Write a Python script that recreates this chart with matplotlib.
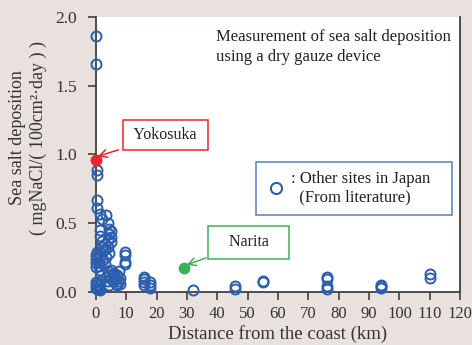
import matplotlib
matplotlib.use("Agg")
import matplotlib.pyplot as plt
from matplotlib.lines import Line2D

plt.rcParams["font.family"] = ["Liberation Serif", "DejaVu Serif"]

# other sites in Japan (distance from coast in km, deposition in mg NaCl/(100 cm2 day))
other_km = [
    0, 0, 0.3, 0.3, 0.5, 0.5,
    1.5, 2, 3.5, 4, 4.5, 4.5, 4,
    1.5, 1.5, 2, 2, 2.5, 3, 3, 4, 4.5, 5, 5, 5,
    0, 0, 0, 0, 0.5, 0.5, 1, 1, 1.5, 1.5, 2.5, 3, 3.5,
    0, 0, 0, 0.3, 0.5, 1, 1, 1.5, 1.5,
    4, 4.5, 5, 5, 5.5, 5.5, 6, 6, 6.5, 6.5, 7, 7, 7.5, 7.5, 8, 8, 4, 4.5, 3.5,
    9.5, 9.5, 9.5, 9.5,
    16, 16, 16, 16, 18, 18, 18,
    32, 46, 46, 55, 55, 76, 76, 76, 76, 94, 94, 94, 110, 110,
]
other_dep = [
    1.86, 1.66, 0.89, 0.85, 0.67, 0.61,
    0.57, 0.53, 0.56, 0.50, 0.46, 0.42, 0.38,
    0.45, 0.41, 0.37, 0.33, 0.30, 0.35, 0.31, 0.33, 0.28, 0.44, 0.40, 0.36,
    0.27, 0.24, 0.21, 0.18, 0.29, 0.25, 0.22, 0.19, 0.26, 0.16, 0.23, 0.20, 0.25,
    0.07, 0.05, 0.03, 0.02, 0.06, 0.04, 0.02, 0.08, 0.01,
    0.15, 0.12, 0.10, 0.16, 0.13, 0.08, 0.14, 0.11, 0.09, 0.06, 0.12, 0.05, 0.15, 0.08, 0.10, 0.06, 0.08, 0.05, 0.11,
    0.29, 0.27, 0.22, 0.20,
    0.11, 0.09, 0.07, 0.05, 0.07, 0.05, 0.03,
    0.01, 0.04, 0.02, 0.08, 0.07, 0.11, 0.09, 0.04, 0.02, 0.05, 0.04, 0.03, 0.13, 0.10,
]

# measured sites
yokosuka = (0, 0.96)
narita = (29, 0.17)

BLUE = "#2b5fae"
RED = "#e8262b"
GREEN = "#3db05a"
BG = "#e8e1dd"
SPINE = "#404040"
INK = "#333333"

fig = plt.figure(figsize=(4.72, 3.45), dpi=100, facecolor=BG)
ax = fig.add_axes([0.203, 0.154, 0.772, 0.797])
ax.set_facecolor("white")

ax.plot(other_km, other_dep, "o", ls="none", ms=7.2, mfc="none", mec=BLUE, mew=1.4,
        clip_on=False, zorder=3)
ax.plot(*yokosuka, "o", ms=7.5, color=RED, clip_on=False, zorder=4)
ax.plot(*narita, "o", ms=7.5, color=GREEN, zorder=4)

ax.set_xlim(0, 120)
ax.set_ylim(0, 2.0)
ax.set_xticks(range(0, 121, 10))
ax.set_yticks([0, 0.5, 1.0, 1.5, 2.0])
ax.set_yticklabels(["0.0", "0.5", "1.0", "1.5", "2.0"])
ax.tick_params(labelsize=12, colors=INK, direction="out", length=5.5, width=1.1)
ax.tick_params(axis="x", pad=5)
ax.tick_params(axis="y", labelsize=12.5, pad=8)
for side in ["left", "bottom", "right"]:
    ax.spines[side].set_color(SPINE)
    ax.spines[side].set_linewidth(1.3)
ax.spines["top"].set_visible(False)

ax.set_xlabel("Distance from the coast (km)", fontsize=13.5, color=INK, labelpad=2)
ax.set_ylabel("Sea salt deposition\n( mgNaCl/( 100cm²·day ) )", fontsize=13,
              color=INK, labelpad=6, linespacing=1.3)
ax.yaxis.label.set_y(0.56)

ax.text(0.330, 0.955, "Measurement of sea salt deposition\nusing a dry gauze device",
        transform=ax.transAxes, fontsize=12, color="#222222", va="top", linespacing=1.35)

ax.annotate(" Yokosuka ", xy=(0.6, 0.985), xytext=(22.9, 1.142), fontsize=11.5,
            color="#222222", ha="center", va="center",
            bbox=dict(boxstyle="square,pad=0.45", fc="white", ec=RED, lw=1.1),
            arrowprops=dict(arrowstyle="->", color=RED, lw=1.1, shrinkA=3, shrinkB=0,
                            mutation_scale=14))
ax.annotate("   Narita   ", xy=(29.8, 0.195), xytext=(50.3, 0.36), fontsize=11.5,
            color="#222222", ha="center", va="center",
            bbox=dict(boxstyle="square,pad=0.55", fc="white", ec=GREEN, lw=1.1),
            arrowprops=dict(arrowstyle="->", color=GREEN, lw=1.1, shrinkA=1, shrinkB=0,
                            mutation_scale=14))

handle = Line2D([], [], ls="none", marker="o", ms=8, mfc="none", mec=BLUE, mew=1.5)
leg = ax.legend([handle], [": Other sites in Japan   \n  (From literature)"],
                loc="upper right", bbox_to_anchor=(0.978, 0.473), borderaxespad=0,
                fontsize=12, frameon=True, fancybox=False, handletextpad=0.3,
                handlelength=1.3, borderpad=0.55, labelcolor="#222222")
leg.get_frame().set_edgecolor(BLUE)
leg.get_frame().set_linewidth(1.1)

fig.savefig("out.png", dpi=100, facecolor=BG)
